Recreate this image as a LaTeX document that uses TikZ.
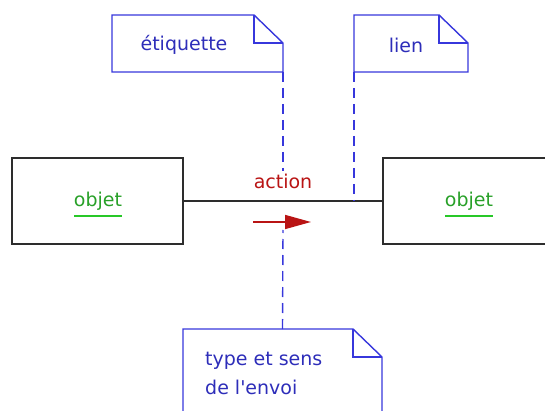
\documentclass[tikz,border=0pt]{standalone}
\usepackage{fontspec}
\setmainfont{DejaVu Sans}[Ligatures=TeXOff]
\usetikzlibrary{arrows.meta}
\definecolor{noteblue}{RGB}{55,55,220}
\definecolor{textblue}{RGB}{45,45,185}
\definecolor{actred}{RGB}{185,20,20}
\definecolor{objgreen}{RGB}{40,160,40}
\definecolor{ulgreen}{RGB}{40,200,40}
\definecolor{linegray}{RGB}{45,45,45}
\tikzset{
  notebox/.style={draw=none, minimum width=#1, inner sep=0pt, outer sep=0pt},
  noteline/.style={draw=noteblue, line width=1.4pt},
  notetext/.style={text=textblue, font=\fontsize{19}{29}\selectfont, inner sep=0pt, align=left},
  objbox/.style={draw=linegray, line width=1.4pt, minimum width=171pt, minimum height=86pt, inner sep=0pt, outer sep=0pt},
  objtext/.style={text=objgreen, font=\fontsize{19}{22}\selectfont, inner sep=0pt},
  underl/.style={fill=ulgreen, draw=none},
  dashconn/.style={draw=noteblue, line width=1.4pt, dash pattern=on 10pt off 6pt},
}
\newcommand\drawnote[1]{%
  \draw[noteline] (#1.north west) -- ([xshift=-29pt]#1.north east) -- ([yshift=-28pt]#1.north east) -- (#1.south east) -- (#1.south west) -- cycle;
  \draw[noteline] ([xshift=-29pt]#1.north east) |- ([yshift=-28pt]#1.north east);
}
\begin{document}
\begin{tikzpicture}[x=1pt,y=-1pt]
\useasboundingbox (0,0) rectangle (545,411);
% notes
\node[notebox=171pt, minimum height=57pt] (etiq) at (197.5,43.5) {};
\node[notetext] (etiqt) at (184,45) {étiquette};
\node[notebox=114pt, minimum height=57pt] (lien) at (411,43.5) {};
\node[notetext] (lient) at (406,45) {lien};
\node[notebox=199pt, minimum height=95pt] (typ) at (282.5,376.5) {};
\node[notetext, anchor=west] (typt) at (205,373) {type et sens\\de l'envoi};
\drawnote{etiq}
\drawnote{lien}
\drawnote{typ}
% objects
\node[objbox] (o1) at (97.5,201) {};
\node[objtext] (o1t) at (98,201) {objet};
\node[objbox] (o2) at (468.5,201) {};
\node[objtext] (o2t) at (469,201) {objet};
\path[underl] ([yshift=-4.5pt]o1t.south west) rectangle ([yshift=-6.3pt]o1t.south east);
\path[underl] ([yshift=-4.5pt]o2t.south west) rectangle ([yshift=-6.3pt]o2t.south east);
% link
\draw[linegray, line width=1.4pt] (o1.east) -- (o2.west);
\coordinate (lk) at (354,201);
% action
\node[text=actred, font=\fontsize{19}{22}\selectfont, inner sep=2pt] (act) at (283,181) {action};
\coordinate (as) at (253,222);
\coordinate (ae) at (311,222);
\draw[actred, line width=1.5pt, -{Triangle[length=26pt,width=14pt]}] (as) -- (ae);
\coordinate (ab) at (283,230);
% dashed connectors
\draw[dashconn] (etiq.south east) -- (act.north);
\draw[dashconn] (lien.south west) -- (lk);
\draw[dashconn] (typ.north) -- (ab);
\end{tikzpicture}
\end{document}
